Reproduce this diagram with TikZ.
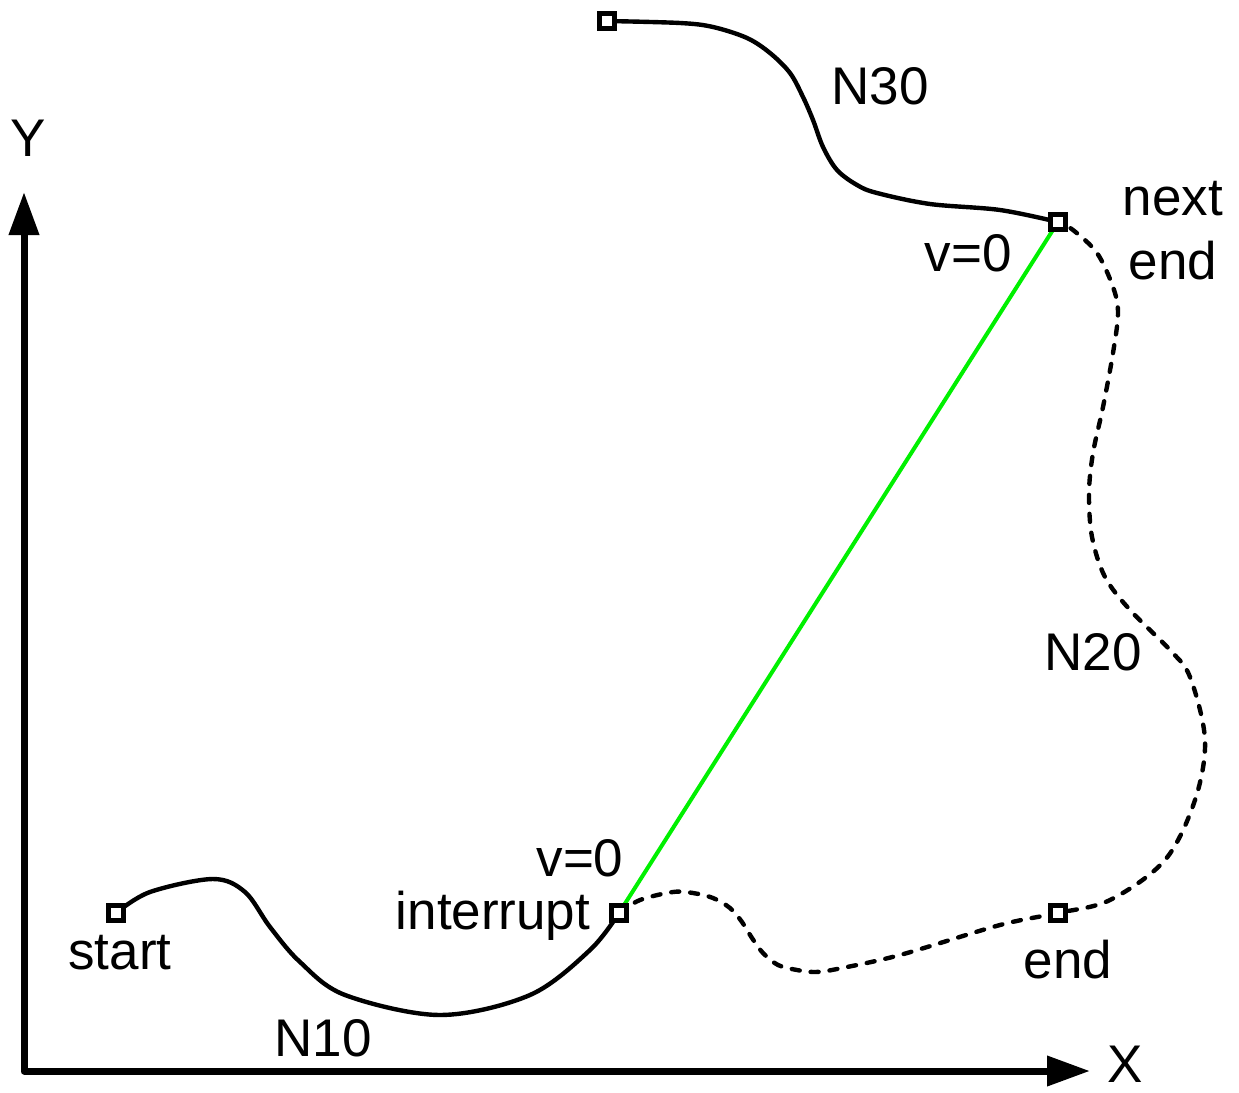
\documentclass[tikz,border=0pt]{standalone}
\usepackage{fontspec}
\setmainfont{Liberation Sans}
\usetikzlibrary{arrows.meta}
\definecolor{vgreen}{RGB}{0,240,0}
\begin{document}
\begin{tikzpicture}[x=1pt,y=-1pt,
  lbl/.style={inner sep=0pt, font=\fontsize{53}{60}\selectfont},
  sq/.style={draw, fill=white, line width=5pt, minimum size=15pt, inner sep=0pt, rectangle},
  curve/.style={line width=4.4pt},
  dcurve/.style={line width=4.4pt, line cap=round, dash pattern=on 8pt off 11pt},
  axis/.style={line width=7pt, line join=round, {Triangle[length=43pt,width=29pt]}-{Triangle[length=43pt,width=29pt]}}]
\useasboundingbox (0,0) rectangle (1239,1092);
% named points
\coordinate (yt) at (24,192);
\coordinate (o) at (24,1071);
\coordinate (xt) at (1090,1071);
\coordinate (s) at (116,913);
\coordinate (i) at (619,913);
\coordinate (e) at (1058,913);
\coordinate (ne) at (1058,222);
\coordinate (t) at (607,21);
% axes
\draw[axis] (yt) -- (o) -- (xt);
% N10
\draw[curve] plot[smooth, tension=0.55] coordinates {(s) (150,892) (213,879) (245,892) (270,927) (300,962) (345,995) (440,1015) (530,995) (590,950) (i)};
% N20
\draw[dcurve] plot[smooth, tension=0.55] coordinates {(i) (640,900) (673,892) (693,893) (713,898) (730,908) (742,922) (752,938) (763,953) (778,965) (797,970) (815,972) (837,969) (900,955) (1000,925) (e) (1110,900) (1165,860) (1195,800) (1205,740) (1190,677) (1170,650) (1130,610) (1105,577) (1092,537) (1089,493) (1093,453) (1103,407) (1113,353) (1118,313) (1113,287) (1097,253) (1073,230) (ne)};
% N30
\draw[curve] plot[smooth, tension=0.55] coordinates {(t) (680,23) (713,27) (747,38) (770,53) (790,73) (803,97) (813,120) (823,147) (837,170) (857,185) (877,193) (930,204) (1000,210) (ne)};
% green
\draw[line width=4pt, color=vgreen] (i) -- (ne);
% squares
\node[sq] (sqs) at (s) {};
\node[sq] (sqi) at (i) {};
\node[sq] (sqe) at (e) {};
\node[sq] (sqne) at (ne) {};
\node[sq] (sqt) at (t) {};
% labels
\node[lbl] (ly) at (28,138) {Y};
\node[lbl] (lx) at (1125,1064) {X};
\node[lbl] (ln30) at (880,86) {N30};
\node[lbl] (lnext) at (1173,199) {next};
\node[lbl] (lend2) at (1173,261) {end};
\node[lbl] (lv1) at (968,253) {v=0};
\node[lbl] (ln20) at (1093,652) {N20};
\node[lbl] (lv2) at (580,858) {v=0};
\node[lbl] (lint) at (493,916) {interrupt};
\node[lbl] (lstart) at (120,953) {start};
\node[lbl] (ln10) at (323,1038) {N10};
\node[lbl] (lend) at (1068,960) {end};
\end{tikzpicture}
\end{document}
